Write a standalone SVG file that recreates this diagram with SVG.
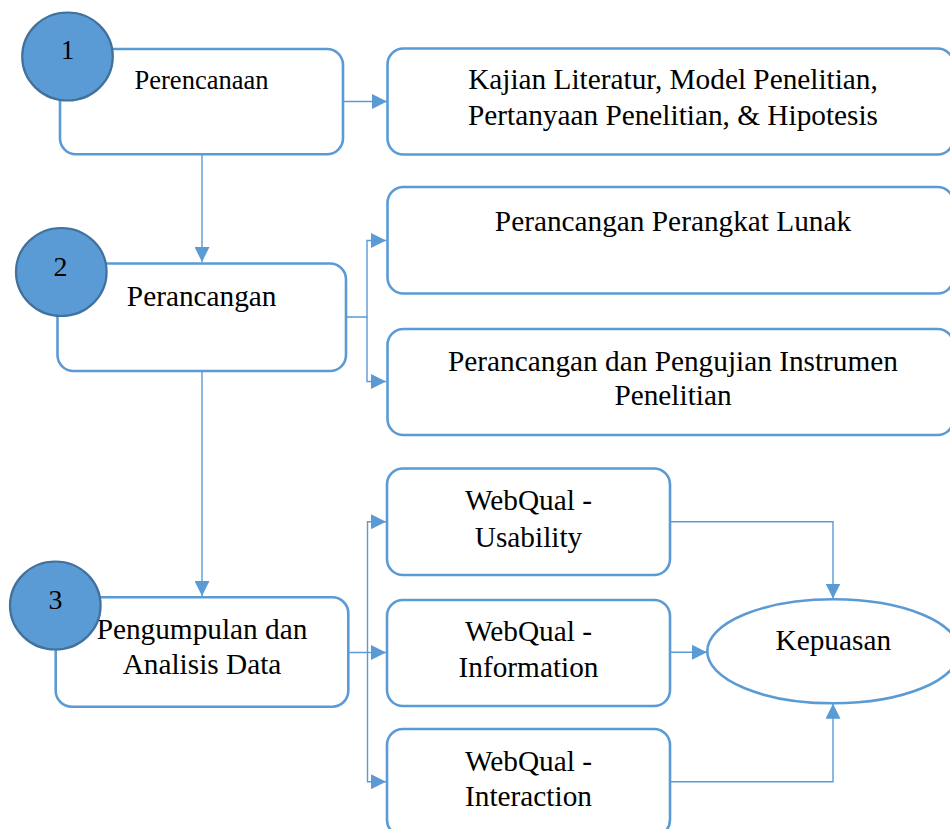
<svg xmlns="http://www.w3.org/2000/svg" width="950" height="829" viewBox="0 0 950 829">
<style>
.box{fill:#ffffff;stroke:#5B9BD5;stroke-width:2.6}
.num{fill:#5B9BD5;stroke:#41719C;stroke-width:2.2}
.t{font-family:"Liberation Serif","Times New Roman",serif;font-size:29.3px;fill:#000000;text-anchor:middle}
.s{font-size:26.5px}
.d{font-size:28px}
.c{fill:none;stroke:#5B9BD5;stroke-width:1.4}
</style>
<defs>
<marker id="ah" markerUnits="userSpaceOnUse" markerWidth="15" markerHeight="15" refX="15" refY="7.5" orient="auto">
<path d="M0,0 L15,7.5 L0,15 z" fill="#5B9BD5"/>
</marker>
</defs>
<rect width="950" height="829" fill="#ffffff"/>
<g id="connectors">
<path class="c" d="M343,101.5 H387" marker-end="url(#ah)"/>
<path class="c" d="M202,154 V262" marker-end="url(#ah)"/>
<path class="c" d="M346,317 H367 V240.5 H386" marker-end="url(#ah)"/>
<path class="c" d="M367,317 V381.5 H386" marker-end="url(#ah)"/>
<path class="c" d="M202,371 V596" marker-end="url(#ah)"/>
<path class="c" d="M348,652.5 H367.5 V521.7 H386" marker-end="url(#ah)"/>
<path class="c" d="M367.5,652.5 H386" marker-end="url(#ah)"/>
<path class="c" d="M367.5,652.5 V781.7 H386" marker-end="url(#ah)"/>
<path class="c" d="M670,521.7 H833 V598.5" marker-end="url(#ah)"/>
<path class="c" d="M670,652.3 H707" marker-end="url(#ah)"/>
<path class="c" d="M670,781.7 H833 V703.8" marker-end="url(#ah)"/>
</g>
<g id="node-perencanaan">
<rect class="box" x="60" y="49" width="283" height="105.3" rx="16"/>
<text class="t s" x="201.5" y="88.7">Perencanaan</text>
<ellipse class="num" cx="67.5" cy="56.5" rx="45.3" ry="44"/>
<text class="t s" x="67.5" y="59.3">1</text>
</g>
<g id="node-kajian">
<rect class="box" x="387.5" y="48.5" width="566" height="106" rx="16"/>
<text class="t" x="673" y="88.5">Kajian Literatur, Model Penelitian,</text>
<text class="t" x="673" y="125">Pertanyaan Penelitian, &amp; Hipotesis</text>
</g>
<g id="node-perancangan">
<rect class="box" x="57.5" y="263.5" width="288.5" height="107.5" rx="16"/>
<text class="t" x="201.7" y="305.7">Perancangan</text>
<ellipse class="num" cx="61.3" cy="272" rx="45.3" ry="44"/>
<text class="t d" x="60.5" y="276">2</text>
</g>
<g id="node-perangkat-lunak">
<rect class="box" x="387.5" y="187" width="566" height="106.5" rx="16"/>
<text class="t" x="673" y="230.5">Perancangan Perangkat Lunak</text>
</g>
<g id="node-instrumen">
<rect class="box" x="387.5" y="329" width="566" height="106" rx="16"/>
<text class="t" x="673" y="370.5">Perancangan dan Pengujian Instrumen</text>
<text class="t" x="673" y="404.5">Penelitian</text>
</g>
<g id="node-pengumpulan">
<rect class="box" x="55.7" y="597.3" width="292.6" height="109.4" rx="16"/>
<text class="t" x="202" y="639">Pengumpulan dan</text>
<text class="t" x="202" y="674.3">Analisis Data</text>
<ellipse class="num" cx="55.3" cy="605.5" rx="45.3" ry="44"/>
<text class="t d" x="55.5" y="609">3</text>
</g>
<g id="node-usability">
<rect class="box" x="387" y="468.5" width="283" height="106.5" rx="16"/>
<text class="t" x="528.5" y="510">WebQual -</text>
<text class="t" x="528.5" y="546.7">Usability</text>
</g>
<g id="node-information">
<rect class="box" x="387" y="600" width="283" height="106" rx="16"/>
<text class="t" x="528.5" y="641">WebQual -</text>
<text class="t" x="528.5" y="676.7">Information</text>
</g>
<g id="node-interaction">
<rect class="box" x="387" y="729" width="283" height="107" rx="16"/>
<text class="t" x="528.5" y="770.7">WebQual -</text>
<text class="t" x="528.5" y="806">Interaction</text>
</g>
<g id="node-kepuasan">
<ellipse class="box" cx="833.3" cy="651.3" rx="126" ry="52"/>
<text class="t" x="833.3" y="650">Kepuasan</text>
</g>
</svg>
